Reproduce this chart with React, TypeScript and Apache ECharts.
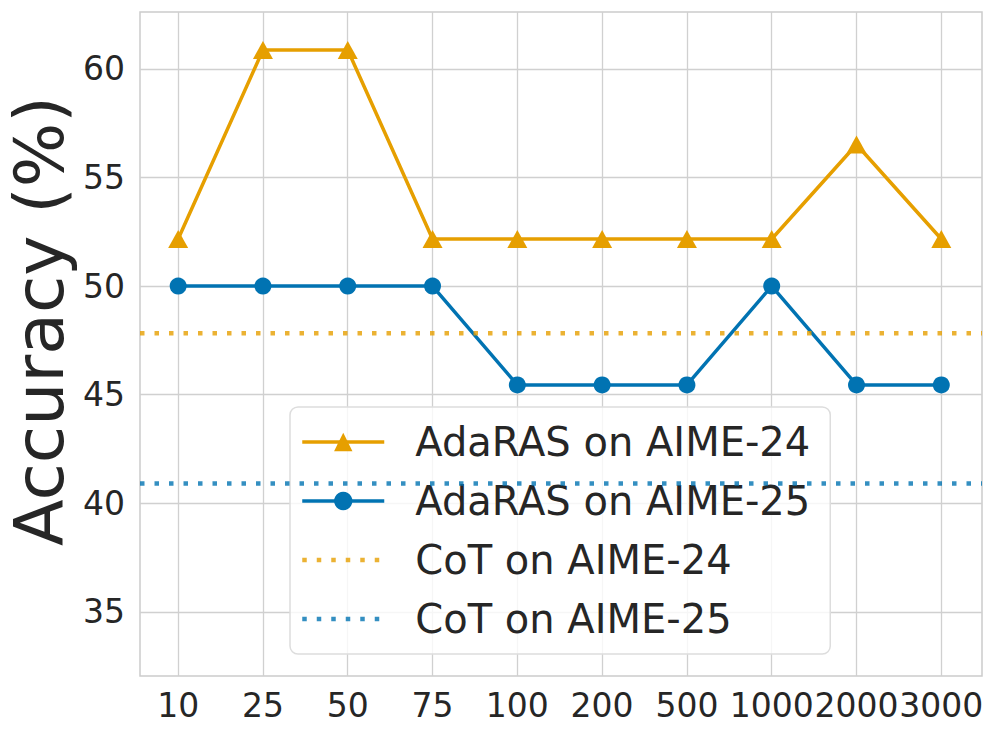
import React, { useEffect, useRef } from "react";
import * as echarts from "echarts";

const categories = ["10", "25", "50", "75", "100", "200", "500", "1000", "2000", "3000"];
const adaras24 = [52.17, 60.87, 60.87, 52.17, 52.17, 52.17, 52.17, 52.17, 56.52, 52.17];
const adaras25 = [50.0, 50.0, 50.0, 50.0, 45.45, 45.45, 45.45, 50.0, 45.45, 45.45];
const cot24 = 47.83;
const cot25 = 40.91;
const yTicks = [35, 40, 45, 50, 55, 60];

const X_MIN = -0.45;
const X_MAX = 9.48;
const Y_MIN = 32.05;
const Y_MAX = 62.62;

const FONT = "'DejaVu Sans', 'Noto Sans', sans-serif";
const TEXT = "#262626";
const GRID = "#d0d0d0";
const ORANGE = "#E69F00";
const BLUE = "#0173B2";
const ORANGE_DOT = "rgba(230,159,0,0.8)";
const BLUE_DOT = "rgba(1,115,178,0.8)";
const DOTS = [4.5, 10];

export default function App() {
  const ref = useRef<HTMLDivElement>(null);
  useEffect(() => {
    if (!ref.current) return;
    const chart = echarts.init(ref.current, undefined, { renderer: "svg" });
    const xIdx = categories.map((_, i) => i);
    chart.setOption({
      animation: false,
      backgroundColor: "#ffffff",
      textStyle: { fontFamily: FONT },
      grid: {
        left: 140,
        right: 14,
        top: 12,
        bottom: 60,
        show: true,
        borderColor: "#cccccc",
        borderWidth: 1.5,
        containLabel: false,
      },
      xAxis: {
        type: "value",
        min: X_MIN,
        max: X_MAX,
        axisLine: { show: false },
        axisTick: { show: false, customValues: xIdx },
        axisLabel: {
          customValues: xIdx,
          formatter: (v: number) => categories[Math.round(v)] ?? "",
          color: TEXT,
          fontSize: 33,
          fontFamily: FONT,
          margin: 13,
        },
        splitLine: { show: true, lineStyle: { color: GRID, width: 1.3 } },
      },
      yAxis: {
        type: "value",
        min: Y_MIN,
        max: Y_MAX,
        axisLine: { show: false },
        axisTick: { show: false, customValues: yTicks },
        axisLabel: {
          customValues: yTicks,
          color: TEXT,
          fontSize: 33,
          fontFamily: FONT,
          margin: 15,
        },
        splitLine: { show: true, lineStyle: { color: GRID, width: 1.3 } },
      },
      legend: {
        orient: "vertical",
        left: 290,
        top: 407,
        padding: [12, 20, 12, 10],
        itemWidth: 82,
        itemHeight: 23,
        itemGap: 13,
        backgroundColor: "rgba(255,255,255,0.8)",
        borderColor: "#dddddd",
        borderWidth: 1.5,
        borderRadius: 8,
        textStyle: {
          color: TEXT,
          fontSize: 40,
          fontFamily: FONT,
          lineHeight: 46,
          padding: [0, 0, 0, 26],
        },
        data: [
          { name: "AdaRAS on AIME-24", lineStyle: { width: 3.5, color: ORANGE } },
          { name: "AdaRAS on AIME-25", lineStyle: { width: 3.5, color: BLUE } },
          {
            name: "CoT on AIME-24",
            itemStyle: { opacity: 0 },
            lineStyle: { width: 4.5, type: DOTS, color: ORANGE_DOT },
          },
          {
            name: "CoT on AIME-25",
            itemStyle: { opacity: 0 },
            lineStyle: { width: 4.5, type: DOTS, color: BLUE_DOT },
          },
        ],
      },
      graphic: [
        {
          type: "text",
          x: 39,
          y: 321,
          rotation: Math.PI / 2,
          style: {
            text: "Accuracy (%)",
            fontSize: 68,
            fontFamily: FONT,
            fill: TEXT,
            align: "center",
            verticalAlign: "middle",
          },
        },
      ],
      series: [
        {
          name: "AdaRAS on AIME-24",
          type: "line",
          data: adaras24.map((v, i) => [i, v]),
          symbol: "triangle",
          symbolSize: [20, 18],
          itemStyle: { color: ORANGE },
          lineStyle: { color: ORANGE, width: 3.5 },
          z: 3,
        },
        {
          name: "AdaRAS on AIME-25",
          type: "line",
          data: adaras25.map((v, i) => [i, v]),
          symbol: "circle",
          symbolSize: 17,
          itemStyle: { color: BLUE },
          lineStyle: { color: BLUE, width: 3.5 },
          z: 3,
        },
        {
          name: "CoT on AIME-24",
          type: "line",
          data: [
            [X_MIN, cot24],
            [X_MAX, cot24],
          ],
          showSymbol: false,
          symbol: "none",
          itemStyle: { color: ORANGE_DOT },
          lineStyle: { color: ORANGE_DOT, width: 4.5, type: DOTS },
          z: 4,
        },
        {
          name: "CoT on AIME-25",
          type: "line",
          data: [
            [X_MIN, cot25],
            [X_MAX, cot25],
          ],
          showSymbol: false,
          symbol: "none",
          itemStyle: { color: BLUE_DOT },
          lineStyle: { color: BLUE_DOT, width: 4.5, type: DOTS },
          z: 4,
        },
      ],
    });
    return () => chart.dispose();
  }, []);
  return (
    <div
      ref={ref}
      style={{ position: "fixed", left: 0, top: 0, width: 996, height: 736 }}
    />
  );
}
